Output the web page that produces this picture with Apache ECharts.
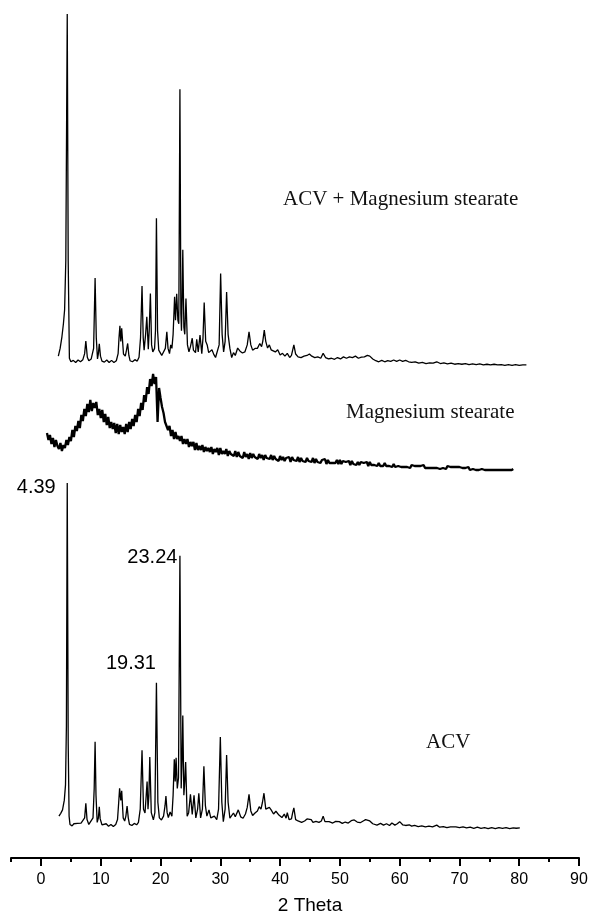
<!DOCTYPE html>
<html>
<head>
<meta charset="utf-8">
<title>XRD patterns</title>
<script src="https://cdn.jsdelivr.net/npm/echarts@6/dist/echarts.min.js"></script>
<style>
html, body { margin: 0; padding: 0; background: #fff; }
#chart { width: 592px; height: 918px; }
</style>
</head>
<body>
<div id="chart"></div>
<script>
// trace names (top to bottom)
var traceNames = ['ACV + Magnesium stearate', 'Magnesium stearate', 'ACV'];

// annotated ACV peaks (2 theta)
var peakTheta = [4.39, 23.24, 19.31];

// ACV + Mg stearate, [2theta, relative intensity %]
var mixData = [
  [2.9, 2.8], [3.2, 5], [3.5, 8.3], [3.75, 12], [3.95, 16], [4.15, 30], [4.39, 100], [4.55, 30], [4.75, 2.2], [5.0, 1.2],
  [5.4, 1.6], [5.8, 1.0], [6.2, 1.7], [6.6, 1.2], [7.0, 1.8], [7.3, 3.5], [7.5, 7.1], [7.75, 2.5], [8.0, 1.5], [8.4, 2.0],
  [8.8, 5], [9.05, 25], [9.25, 8], [9.45, 2.0], [9.6, 3.5], [9.75, 6.3], [9.95, 2.8], [10.2, 1.4], [10.6, 1.1], [11.0, 1.7],
  [11.4, 1.0], [11.8, 1.6], [12.2, 1.0], [12.6, 1.5], [12.9, 3.5], [13.05, 8], [13.2, 11.4], [13.35, 7], [13.5, 10.7], [13.8, 3.4],
  [14.1, 2.8], [14.3, 4.5], [14.5, 6.4], [14.7, 3], [14.9, 1.5], [15.3, 1.2], [15.7, 1.8], [16.1, 1.4], [16.4, 2.5], [16.65, 8],
  [16.9, 22.7], [17.1, 8], [17.25, 4.5], [17.5, 9], [17.7, 14], [17.95, 4.8], [18.1, 10], [18.3, 20.6], [18.5, 6], [18.7, 4],
  [19.0, 5], [19.15, 10], [19.31, 42], [19.5, 10], [19.7, 4.5], [19.9, 4], [20.2, 3], [20.5, 2.5], [20.8, 5], [21.05, 9.7],
  [21.25, 5], [21.5, 3.5], [21.7, 6], [21.9, 5], [22.1, 9], [22.35, 19.7], [22.5, 13], [22.7, 20.5], [22.9, 13], [23.05, 12],
  [23.24, 78.6], [23.4, 15], [23.5, 10], [23.62, 20], [23.72, 33], [23.9, 11], [24.05, 9], [24.25, 19.2], [24.5, 6], [24.75, 4],
  [25.0, 5.5], [25.3, 7.9], [25.5, 4.5], [25.6, 5], [25.85, 3.8], [26.05, 7.6], [26.3, 4], [26.6, 8.8], [26.9, 3.5], [27.1, 8],
  [27.3, 18], [27.55, 7], [27.8, 6], [28.05, 3.8], [28.3, 3.8], [28.6, 4.6], [28.9, 3.3], [29.2, 2.4], [29.5, 2.2], [29.8, 6],
  [30.05, 26.3], [30.3, 9], [30.55, 4], [30.8, 7], [31.05, 21], [31.3, 9], [31.6, 5], [31.9, 2.4], [32.2, 3.8], [32.5, 3.0],
  [32.9, 5.1], [33.3, 4.2], [33.7, 3.7], [34.1, 4], [34.5, 6], [34.8, 9.7], [35.1, 6], [35.4, 4.5], [35.8, 5], [36.2, 5],
  [36.6, 6.4], [36.9, 5.5], [37.1, 7], [37.35, 10.2], [37.6, 7], [37.9, 5.1], [38.2, 6], [38.5, 4.6], [38.8, 5.1], [39.2, 4],
  [39.6, 4.6], [40.0, 3.1], [40.4, 3.6], [40.8, 2.8], [41.2, 3.6], [41.6, 2.4], [41.9, 3], [42.1, 4.5], [42.3, 6], [42.6, 3.4],
  [43.0, 2.6], [43.5, 2.4], [44.0, 2.8], [44.5, 3.0], [44.9, 3.4], [45.3, 2.8], [45.8, 2.4], [46.3, 2.6], [46.8, 2.2], [47.2, 3.6],
  [47.6, 2.4], [48.1, 2.0], [48.6, 2.2], [49.1, 1.9], [49.6, 2.4], [50.1, 2.0], [50.6, 2.6], [51.1, 2.2], [51.6, 2.6], [52.1, 2.4],
  [52.6, 2.8], [53.1, 2.2], [53.6, 2.5], [54.1, 2.6], [54.6, 3.0], [55.0, 2.8], [55.5, 2.0], [56.0, 1.5], [56.5, 1.2], [57.0, 1.6],
  [57.5, 1.2], [58.0, 1.5], [58.5, 1.3], [59.0, 1.7], [59.5, 1.3], [60.0, 1.7], [60.5, 1.3], [61.0, 1.6], [61.5, 1.2], [62.0, 1.0],
  [62.6, 1.2], [63.2, 0.8], [63.8, 1.0], [64.4, 0.7], [65.0, 0.9], [65.6, 0.8], [66.2, 1.2], [66.8, 0.7], [67.4, 0.9], [68.0, 0.6],
  [68.6, 0.8], [69.2, 0.5], [69.8, 0.7], [70.4, 0.5], [71.0, 0.7], [71.6, 0.4], [72.2, 0.6], [72.8, 0.4], [73.4, 0.6], [74.0, 0.3],
  [74.6, 0.5], [75.2, 0.3], [75.8, 0.5], [76.4, 0.3], [77.0, 0.4], [77.6, 0.2], [78.2, 0.4], [78.8, 0.2], [79.4, 0.4], [80.0, 0.2],
  [80.6, 0.3], [81.2, 0.3]
];

// Magnesium stearate, sampled every 0.25 deg from 1.0 deg (a.u.)
var mgStart = 1.0, mgStep = 0.25;
var mgI = [
  37, 30, 35, 26,  32, 23, 30, 24,  21, 27, 19, 25,  22, 30, 25, 33,  29, 40, 33, 44,
  39, 49, 42, 55,  49, 61, 54, 66,  58, 70, 59, 67,  62, 68, 55, 61,  52, 60, 48, 56,
  45, 53, 42, 48,  41, 47, 37, 46,  36, 45, 38, 43,  36, 46, 38, 48,  41, 51, 44, 55,
  48, 61, 54, 67,  60, 75, 68, 83,  76, 91, 84, 96,  86, 93, 48, 82,  72, 63, 57, 48,
  46, 40, 44, 34,  40, 31, 38, 31,  34, 29, 34, 26,  31, 26, 31, 23,  28, 24, 28, 20,
  27, 20, 24, 20,  25, 18, 23, 19,  22, 18, 23, 16,  21, 18, 22, 15,  22, 16, 19, 16,
  21, 14, 19, 16,  18, 14, 19, 13,  18, 14, 16, 12,  18, 13, 16, 11,  17, 12, 16, 13,
  14, 11, 16, 12,  15, 10, 15, 12,  13, 11, 15, 10,  14, 11, 13, 9,   14, 10, 13, 9,
  12, 10, 13, 8,   13, 10, 11, 9,   13, 8, 12, 9,    11, 8, 12, 9,    10, 8, 12, 7,
  11, 8, 10, 7,    10, 8, 11, 6,    10, 7, 9, 7,     9, 7, 10, 6,     10, 6, 9, 7,
  8, 6, 9, 5,      9, 6, 8, 5,      8, 5, 8, 6,      7, 5, 8, 4,      8, 5, 7, 5,
  7, 4, 7, 4,      6, 4, 7, 4,      6, 4, 6, 3,      6, 3, 5, 4,      6, 3, 5, 3,
  5, 3, 5, 2,      5, 3, 4, 3,      4, 3, 4, 2,      5, 2, 4, 2,      4, 2, 3, 2,
  4, 2, 3, 1,      3, 2, 3, 1,      4, 2, 3, 1,      3, 1, 3, 2,      3, 1, 2, 1,
  2, 1, 3, 0,      2, 1, 2, 0,      2, 0, 2, 1,      2, 0, 1, 0,      2, 0, 2, 0,
  1, 0, 2, 0,      1, 0, 1, 0,      1, 0, 1, 0,      1
];

// ACV, [2theta, relative intensity %]
var acvData = [
  [3.0, 4.0], [3.3, 4.8], [3.6, 5.8], [3.9, 8.6], [4.1, 13], [4.25, 30], [4.39, 100], [4.55, 25], [4.7, 4], [4.85, 1.6],
  [5.2, 1.2], [5.5, 1.8], [5.8, 1.3], [6.1, 1.9], [6.4, 1.4], [6.7, 2.0], [7.0, 1.6], [7.3, 3.5], [7.5, 7.7], [7.7, 3.0],
  [8.0, 1.6], [8.3, 2.0], [8.7, 3.5], [8.9, 12], [9.05, 25.4], [9.2, 10], [9.4, 2.2], [9.6, 3.5], [9.75, 6.7], [9.9, 3.2],
  [10.2, 1.5], [10.5, 1.2], [10.9, 1.8], [11.3, 1.1], [11.7, 1.6], [12.1, 1.0], [12.5, 1.6], [12.8, 3.0], [13.0, 8], [13.15, 12],
  [13.35, 8.5], [13.5, 11.3], [13.75, 3.5], [14.0, 2.6], [14.2, 4], [14.4, 6.9], [14.6, 3.5], [14.8, 1.6], [15.2, 1.3], [15.6, 1.9],
  [16.0, 1.5], [16.3, 2.2], [16.6, 6], [16.9, 23], [17.15, 6], [17.4, 4.9], [17.6, 10], [17.75, 14], [17.9, 6], [18.05, 10],
  [18.2, 21], [18.45, 5], [18.8, 2.9], [19.05, 5], [19.31, 42.4], [19.55, 8], [19.8, 3.5], [20.15, 2.9], [20.5, 4], [20.75, 7],
  [20.9, 9.8], [21.1, 5], [21.3, 3.6], [21.6, 5.2], [21.9, 4], [22.1, 10], [22.3, 20.4], [22.45, 14], [22.6, 20.8], [22.8, 12],
  [23.0, 15], [23.24, 79], [23.45, 12], [23.6, 20], [23.72, 33], [23.9, 10], [24.05, 14], [24.2, 19.6], [24.45, 4], [24.7, 5],
  [25.0, 10.3], [25.3, 4.5], [25.6, 10], [25.9, 3.5], [26.2, 6], [26.4, 10.6], [26.7, 3.5], [27.0, 6], [27.25, 18.4], [27.5, 7],
  [27.75, 4], [28.1, 5.8], [28.4, 3.5], [28.65, 3.0], [29.0, 4], [29.4, 3.0], [29.7, 6], [30.0, 26.8], [30.25, 8], [30.5, 2.4],
  [30.8, 6], [31.05, 21.6], [31.3, 8], [31.6, 3.4], [31.9, 3], [32.2, 4.9], [32.5, 3.8], [33.0, 5.8], [33.4, 3.8], [33.8, 3.4],
  [34.2, 4.6], [34.5, 6.5], [34.8, 10.3], [35.1, 5.5], [35.4, 4.2], [35.8, 4.9], [36.2, 5.5], [36.5, 6.7], [36.8, 6], [37.05, 8],
  [37.3, 10.6], [37.6, 6], [37.9, 5.5], [38.2, 6.5], [38.5, 5.8], [38.9, 4.6], [39.3, 5.4], [39.8, 4.3], [40.3, 3.6], [40.7, 4.6],
  [41.0, 3.4], [41.2, 5], [41.5, 3], [41.9, 3.2], [42.1, 5], [42.3, 6.4], [42.6, 3], [43.0, 2.6], [43.6, 2.2], [44.1, 2.6],
  [44.5, 3.2], [44.8, 3.4], [45.2, 3], [45.5, 2.2], [46.0, 2.5], [46.5, 2.2], [46.9, 2.6], [47.2, 4], [47.5, 2.4], [47.7, 1.9],
  [48.2, 2.4], [48.8, 2.0], [49.3, 2.5], [49.9, 2.4], [50.4, 1.9], [50.9, 2.3], [51.4, 2.0], [51.9, 2.7], [52.4, 2.9], [52.9, 2.3],
  [53.4, 2.1], [53.9, 2.6], [54.3, 3.0], [54.6, 3.2], [55.0, 2.6], [55.5, 1.8], [56.2, 1.4], [56.8, 1.9], [57.3, 1.4], [57.8, 1.8],
  [58.3, 1.3], [58.7, 2.0], [59.2, 1.4], [59.6, 1.8], [60.0, 2.4], [60.5, 1.5], [61.0, 1.3], [61.6, 1.5], [62.0, 1.1], [62.5, 1.3],
  [63.1, 1.0], [63.7, 1.2], [64.3, 0.9], [64.9, 1.1], [65.5, 0.9], [66.2, 1.4], [66.7, 0.8], [67.3, 1.0], [67.9, 0.7], [68.5, 0.9],
  [68.8, 0.6], [69.4, 0.9], [70.0, 0.7], [70.6, 0.9], [71.2, 0.6], [71.8, 0.8], [72.4, 0.5], [73.0, 0.8], [73.6, 0.5], [74.2, 0.7],
  [74.8, 0.4], [75.4, 0.7], [76.0, 0.4], [76.6, 0.7], [77.2, 0.5], [77.8, 0.7], [78.4, 0.4], [79.0, 0.6], [79.5, 0.5], [80.1, 0.6]
];

var mgData = mgI.map(function (v, i) { return [mgStart + i * mgStep, v]; });

function intensityAt(data, theta) {
    for (var i = 0; i < data.length; i++) {
        if (data[i][0] === theta) return data[i][1];
    }
    return 0;
}

var peakLabelStyle = [
    {distance: 11, offset: [0, 4]},
    {distance: 2, offset: [0, 2]},
    {distance: 0, offset: [0, -19]}
];
var peakMarks = peakTheta.map(function (t, i) {
    return {
        name: t.toFixed(2),
        coord: [t, intensityAt(acvData, t)],
        label: peakLabelStyle[i]
    };
});

var chart = echarts.init(document.getElementById('chart'));

var dataX = function (idx) {
    return {gridIndex: idx, type: 'value', min: 0, max: 90, show: false};
};
var hiddenY = function (idx, max) {
    return {gridIndex: idx, type: 'value', min: 0, max: max, show: false};
};
var traceLine = {color: '#000', width: 1.3};

var option = {
    animation: false,
    backgroundColor: '#fff',
    grid: [
        {left: 41, right: 13, top: 14, bottom: 552},
        {left: 41, right: 13, top: 376, bottom: 448},
        {left: 41, right: 13, top: 483, bottom: 88},
        {left: 11, right: 13, top: 850, bottom: 60},
        {left: 41, right: 13, top: 850, bottom: 60}
    ],
    xAxis: [
        dataX(0), dataX(1), dataX(2),
        {
            gridIndex: 3, type: 'value', min: -5, max: 90, interval: 5,
            axisLine: {lineStyle: {color: '#000', width: 2}},
            axisTick: {length: 4, lineStyle: {color: '#000', width: 2}},
            axisLabel: {show: false},
            splitLine: {show: false}
        },
        {
            gridIndex: 4, type: 'value', min: 0, max: 90, interval: 10,
            axisLine: {show: false},
            axisTick: {length: 8, lineStyle: {color: '#000', width: 2}},
            axisLabel: {fontSize: 16, fontFamily: 'Liberation Sans', color: '#000', margin: 14},
            splitLine: {show: false},
            name: '2 Theta',
            nameLocation: 'middle',
            nameGap: 38,
            nameTextStyle: {fontSize: 19, fontFamily: 'Liberation Sans', color: '#000'}
        }
    ],
    yAxis: [
        hiddenY(0, 100), hiddenY(1, 94), hiddenY(2, 100), hiddenY(3, 1), hiddenY(4, 1)
    ],
    graphic: [
        {type: 'text', left: 283, top: 189, style: {text: traceNames[0], font: '21px "Liberation Serif"', fill: '#111'}},
        {type: 'text', left: 346, top: 402, style: {text: traceNames[1], font: '21px "Liberation Serif"', fill: '#111'}},
        {type: 'text', left: 426, top: 732, style: {text: traceNames[2], font: '21px "Liberation Serif"', fill: '#111'}}
    ],
    series: [
        {
            name: traceNames[0], type: 'line', xAxisIndex: 0, yAxisIndex: 0,
            data: mixData, showSymbol: false, symbol: 'none', clip: false, lineStyle: traceLine
        },
        {
            name: traceNames[1], type: 'line', xAxisIndex: 1, yAxisIndex: 1,
            data: mgData, showSymbol: false, symbol: 'none', clip: false,
            lineStyle: {color: '#000', width: 2.3}
        },
        {
            name: traceNames[2], type: 'line', xAxisIndex: 2, yAxisIndex: 2,
            data: acvData, showSymbol: false, symbol: 'none', clip: false, lineStyle: traceLine,
            markPoint: {
                symbol: 'circle',
                symbolSize: 1,
                silent: true,
                itemStyle: {color: 'rgba(0,0,0,0)'},
                label: {
                    show: true, position: 'left', formatter: '{b}',
                    fontSize: 20, fontFamily: 'Liberation Sans', color: '#000'
                },
                data: peakMarks
            }
        }
    ]
};

chart.setOption(option);
</script>
</body>
</html>
